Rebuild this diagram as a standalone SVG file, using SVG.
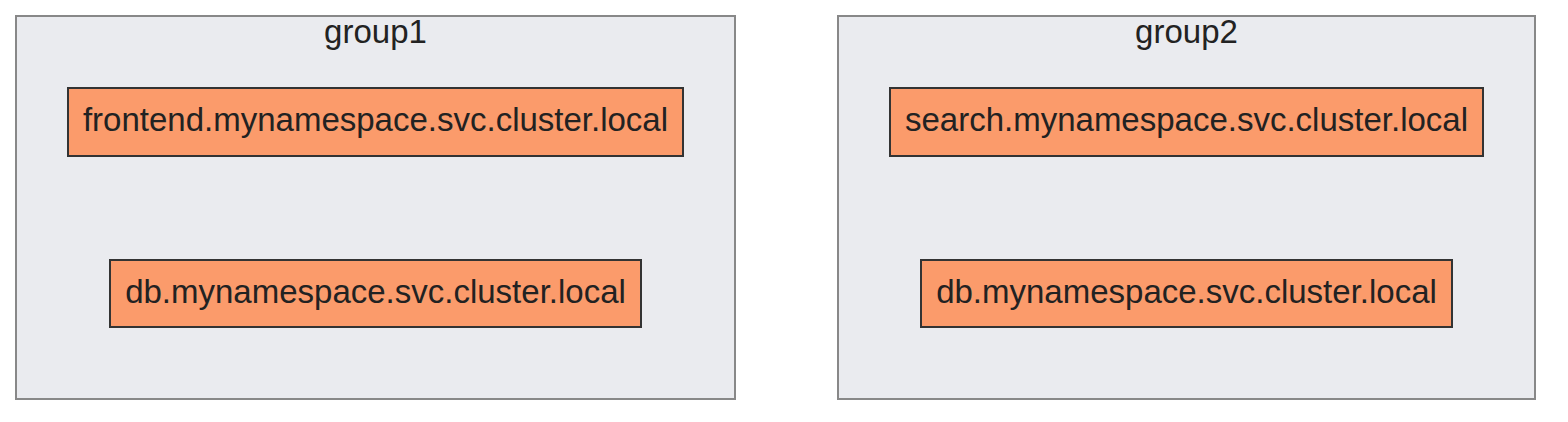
<svg xmlns="http://www.w3.org/2000/svg" width="1568" height="422" viewBox="0 0 1568 422">
<style>
.grp{fill:#eaebef;stroke:#888;stroke-width:2}
.node{fill:#fb9b6b;stroke:#333;stroke-width:2}
text{font-family:"Liberation Sans",Arial,sans-serif;font-size:33px;fill:#222;text-anchor:middle}
</style>
<rect width="1568" height="422" fill="#fff"/>
<g id="group1">
<rect class="grp" x="16" y="16" width="719" height="383"/>
<text x="375.5" y="43">group1</text>
</g>
<g id="group2">
<rect class="grp" x="838" y="16" width="697" height="383"/>
<text x="1186.5" y="43">group2</text>
</g>
<g id="frontend">
<rect class="node" x="68" y="88" width="615" height="68"/>
<text x="375.5" y="131">frontend.mynamespace.svc.cluster.local</text>
</g>
<g id="db1">
<rect class="node" x="110" y="260" width="531" height="67"/>
<text x="375.5" y="303">db.mynamespace.svc.cluster.local</text>
</g>
<g id="search">
<rect class="node" x="890" y="88" width="593" height="68"/>
<text x="1186.5" y="131">search.mynamespace.svc.cluster.local</text>
</g>
<g id="db2">
<rect class="node" x="921" y="260" width="531" height="67"/>
<text x="1186.5" y="303">db.mynamespace.svc.cluster.local</text>
</g>
<g id="connectors"></g>
</svg>
